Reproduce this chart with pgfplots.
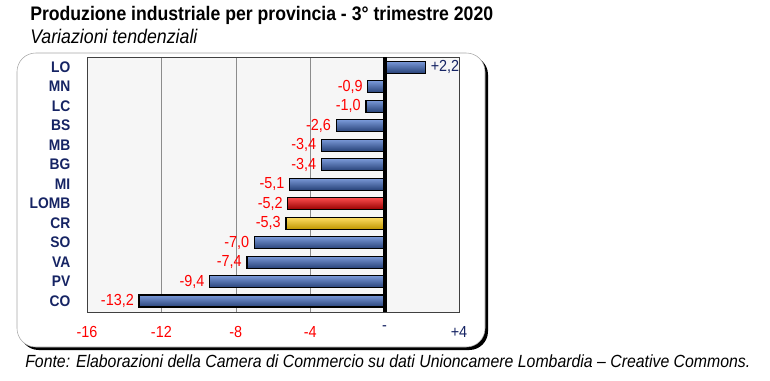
\documentclass[border=0pt]{standalone}
\usepackage{fontspec}
\setmainfont[FakeStretch=0.9]{Liberation Sans}
\usepackage{pgfplots}
\pgfplotsset{compat=1.18}
\definecolor{navy}{RGB}{22,36,100}
\definecolor{barblue}{RGB}{66,110,200}
\definecolor{barred}{RGB}{250,0,0}
\definecolor{bargold}{RGB}{255,200,0}
\pgfplotsset{
  bb/.style={draw=black,line width=0.9pt,top color=barblue!70!white,middle color=barblue,bottom color=barblue!60!black},
  br/.style={draw=black,line width=0.9pt,top color=barred!70!white,middle color=barred,bottom color=barred!60!black},
  bg/.style={draw=black,line width=0.9pt,top color=bargold!60!white,middle color=bargold,bottom color=bargold!75!black},
}
\begin{document}
\begin{tikzpicture}[x=0.75pt,y=0.75pt]
\useasboundingbox (0,0) rectangle (770,380);
\node[anchor=base west,inner sep=0pt,font=\bfseries\fontsize{14.7}{16}\selectfont] at (30,360) {Produzione industriale per provincia - 3° trimestre 2020};
\node[anchor=base west,inner sep=0pt,font=\itshape\fontsize{14.8}{16}\selectfont] at (30,337) {Variazioni tendenziali};
\node[anchor=base west,inner sep=0pt,font=\itshape\fontsize{13.2}{14}\selectfont] at (25,13) {Fonte: Elaborazioni della Camera di Commercio su dati Unioncamere Lombardia – Creative Commons.};
\fill[black,rounded corners=14] (20,30) rectangle (488,324);
\draw[gray!70,fill=white,rounded corners=14] (17,33) rectangle (485,327);
\begin{axis}[at={(65.25pt,51pt)},anchor=south west,scale only axis,
  width=279pt,height=191.25pt,
  xmin=-16,xmax=4,ymin=-0.52,ymax=12.56,y dir=reverse,
  xbar,bar width=9pt,bar shift=0pt,
  axis background/.style={fill=gray!7},
  axis line style={black!75,line width=0.6pt},
  xtick={-16,-12,-8,-4,0,4},
  xticklabels={\textcolor{red}{-16},\textcolor{red}{-12},\textcolor{red}{-8},\textcolor{red}{-4},\textcolor{navy}{-},\textcolor{navy}{+4}},
  xmajorgrids,grid style={black!45,line width=0.4pt},
  ytick={0,...,12},
  yticklabels={LO,MN,LC,BS,MB,BG,MI,LOMB,CR,SO,VA,PV,CO},
  major tick length=0pt,
  yticklabel style={font=\bfseries\fontsize{11.5}{12}\selectfont,text=navy,xshift=-9pt},
  xticklabel style={font=\fontsize{12}{12}\selectfont,yshift=-7pt},
  nodes near coords,nodes near coords align=horizontal,
  every node near coord/.append style={font=\fontsize{12}{12}\selectfont,text=red,inner sep=3.5pt},
  /pgf/number format/.cd,fixed,fixed zerofill,precision=1,use comma,showpos,assume math mode=true,
]
\addplot[bb,every node near coord/.append style={text=navy}] coordinates {(2.2,0)};
\addplot[bb] coordinates {(-0.9,1)};
\addplot[bb] coordinates {(-1.0,2)};
\addplot[bb] coordinates {(-2.6,3)};
\addplot[bb] coordinates {(-3.4,4)};
\addplot[bb] coordinates {(-3.4,5)};
\addplot[bb] coordinates {(-5.1,6)};
\addplot[br] coordinates {(-5.2,7)};
\addplot[bg] coordinates {(-5.3,8)};
\addplot[bb] coordinates {(-7.0,9)};
\addplot[bb] coordinates {(-7.4,10)};
\addplot[bb] coordinates {(-9.4,11)};
\addplot[bb] coordinates {(-13.2,12)};
\draw[black,line width=3pt] (axis cs:0,-0.52) -- (axis cs:0,12.56);
\end{axis}
\end{tikzpicture}
\end{document}
